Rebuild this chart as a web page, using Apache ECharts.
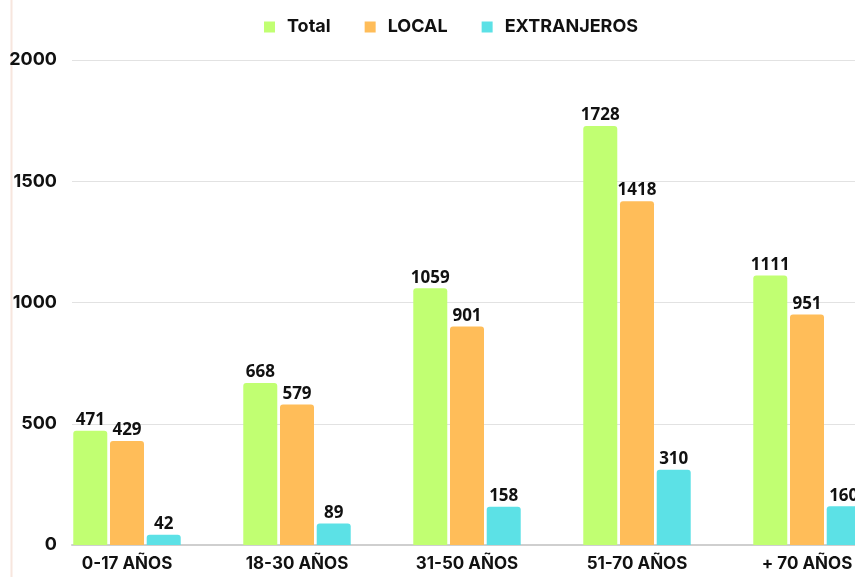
<!DOCTYPE html>
<html>
<head>
<meta charset="UTF-8">
<title>Edades</title>
<script src="https://cdn.jsdelivr.net/npm/echarts@6/dist/echarts.min.js"></script>
<style>
html, body { margin: 0; padding: 0; background: #fff; }
#main { width: 855px; height: 577px; }
</style>
</head>
<body>
<div id="main"></div>
<script>
// datos del grafico
var categorias = ['0-17 AÑOS', '18-30 AÑOS', '31-50 AÑOS', '51-70 AÑOS', '+ 70 AÑOS'];
var total = [471, 668, 1059, 1728, 1111];
var local = [429, 579, 901, 1418, 951];
var extranjeros = [42, 89, 158, 310, 160];
var yTicks = [0, 500, 1000, 1500, 2000];

var colores = ['#C1FF72', '#FFBD59', '#5CE1E6'];

// eje x numerico para que la rejilla empiece antes del primer grupo
function pares(arr) {
    return arr.map(function (v, i) { return [i, v]; });
}

function serie(nombre, arr, color) {
    return {
        name: nombre,
        type: 'bar',
        data: pares(arr),
        barWidth: 34,
        barGap: '8%',
        itemStyle: { color: color, borderRadius: [3, 3, 0, 0] },
        label: {
            show: true,
            position: 'top',
            distance: 2,
            color: '#111',
            fontFamily: 'Open Sans',
            fontWeight: 'bold',
            fontSize: 17,
            formatter: function (p) { return p.value[1]; }
        }
    };
}

var option = {
    backgroundColor: '#fff',
    animation: false,
    legend: {
        left: 264,
        top: 18,
        padding: 0,
        itemWidth: 11,
        itemHeight: 11,
        itemGap: 34,
        icon: 'rect',
        textStyle: {
            color: '#111',
            fontFamily: 'Inter',
            fontWeight: 'bold',
            fontSize: 18,
            padding: [0, 0, 0, 7]
        },
        data: ['Total', 'LOCAL', 'EXTRANJEROS']
    },
    grid: { left: 72, right: -54, top: 60, bottom: 32, outerBoundsMode: 'none', containLabel: false },
    xAxis: {
        type: 'value',
        min: -0.3235,
        max: 4.6,
        splitLine: { show: false },
        axisTick: { show: false },
        axisLine: { show: true, onZero: false, lineStyle: { color: '#cfcfcf', width: 2 } },
        axisLabel: {
            customValues: [0, 1, 2, 3, 4],
            margin: 10,
            color: '#111',
            fontFamily: 'Inter',
            fontWeight: 'bold',
            fontSize: 17,
            formatter: function (v) { return categorias[Math.round(v)]; }
        }
    },
    yAxis: {
        type: 'value',
        min: yTicks[0],
        max: yTicks[yTicks.length - 1],
        interval: 500,
        axisLine: { show: false },
        axisTick: { show: false },
        splitLine: { lineStyle: { color: '#e2e2e2', width: 1 } },
        axisLabel: {
            margin: 15,
            color: '#111',
            fontFamily: 'Inter',
            fontWeight: 'bold',
            fontSize: 18,
            formatter: function (v) { return String(v); }
        }
    },
    graphic: [{
        type: 'line',
        shape: { x1: 11.5, y1: 0, x2: 11.5, y2: 577 },
        style: { stroke: '#f7e6de', lineWidth: 2 }
    }],
    series: [
        serie('Total', total, colores[0]),
        serie('LOCAL', local, colores[1]),
        serie('EXTRANJEROS', extranjeros, colores[2])
    ]
};

var myChart = echarts.init(document.getElementById('main'));
myChart.setOption(option);
</script>
</body>
</html>
